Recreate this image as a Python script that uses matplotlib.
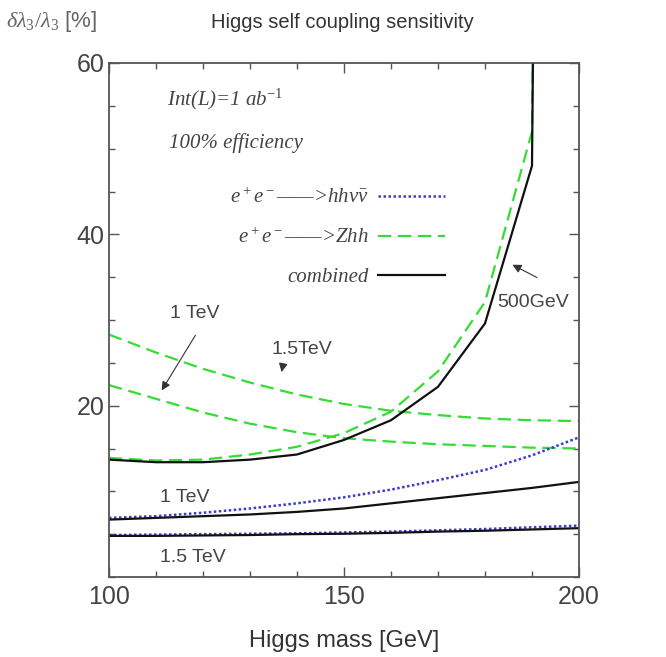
import matplotlib
matplotlib.use("Agg")
import matplotlib.pyplot as plt
from matplotlib.ticker import MultipleLocator

plt.rcParams['font.family'] = ['Liberation Sans', 'DejaVu Sans']
plt.rcParams['mathtext.fontset'] = 'custom'
plt.rcParams['mathtext.rm'] = 'Liberation Serif'
plt.rcParams['mathtext.it'] = 'Liberation Serif:italic'
plt.rcParams['mathtext.bf'] = 'Liberation Serif:bold'

# Higgs mass [GeV]
mass = [100, 110, 120, 130, 140, 150, 160, 170, 180, 190, 200]

# 500 GeV
zhh_500 = [13.9, 13.6, 13.7, 14.3, 15.2, 16.8, 19.3, 24.0, 32.1, 52.0, 700.0]
comb_500 = [13.7, 13.4, 13.4, 13.7, 14.3, 16.0, 18.3, 22.2, 29.6, 48.0, 650.0]

# 1 TeV
zhh_1000 = [22.4, 20.8, 19.2, 17.9, 16.9, 16.2, 15.8, 15.5, 15.3, 15.1, 15.0]
hhvv_1000 = [6.9, 7.1, 7.5, 8.0, 8.6, 9.3, 10.2, 11.3, 12.5, 14.2, 16.3]
comb_1000 = [6.7, 6.9, 7.1, 7.3, 7.6, 8.0, 8.6, 9.2, 9.8, 10.4, 11.1]

# 1.5 TeV
zhh_1500 = [28.3, 26.2, 24.3, 22.7, 21.3, 20.2, 19.4, 18.9, 18.5, 18.3, 18.2]
hhvv_1500 = [4.9, 4.95, 5.0, 5.05, 5.1, 5.2, 5.3, 5.45, 5.6, 5.8, 6.0]
comb_1500 = [4.8, 4.8, 4.85, 4.9, 5.0, 5.05, 5.15, 5.3, 5.4, 5.55, 5.7]

blue = '#3b3bd0'
green = '#33dd33'
grey = '#444444'

fig = plt.figure(figsize=(6.66, 6.57), dpi=100)
# axes box: x 109..579 px, y 63..577 px
ax = fig.add_axes([109 / 666, 1 - 577 / 657, 470 / 666, 514 / 657])

dash = (0, (6, 3))
dots = (0, (1, 1))

# green Zhh curves
ax.plot(mass, zhh_500, color=green, lw=1.6, ls=dash)
ax.plot(mass, zhh_1000, color=green, lw=1.6, ls=dash)
ax.plot(mass, zhh_1500, color=green, lw=1.6, ls=dash, label=r'$e^+e^-$——>$Zhh$')
# blue hhvv curves
ax.plot(mass, hhvv_1000, color=blue, lw=1.8, ls=dots, label=r'$e^+e^-$——>$hh\nu\bar{\nu}$')
ax.plot(mass, hhvv_1500, color=blue, lw=1.8, ls=dots)
# combined
ax.plot(mass, comb_500, color='#111111', lw=1.6)
ax.plot(mass, comb_1000, color='#111111', lw=1.6, label='combined')
ax.plot(mass, comb_1500, color='#111111', lw=1.6)

ax.set_xlim(100, 200)
ax.set_ylim(0, 60)
ax.xaxis.set_major_locator(MultipleLocator(50))
ax.xaxis.set_minor_locator(MultipleLocator(10))
ax.yaxis.set_minor_locator(MultipleLocator(5))
ax.set_yticks([20, 40, 60])
ax.tick_params(which='both', direction='in', top=True, right=True,
               colors='#555555', labelcolor=grey, labelsize=18)
ax.tick_params(which='major', length=7, width=1.0, pad=6)
ax.tick_params(which='minor', length=4, width=1.0)
ax.tick_params(axis='y', pad=3)
for s in ax.spines.values():
    s.set_color('#555555')
    s.set_linewidth(1.3)

# legend (labels left of the line samples)
h, l = ax.get_legend_handles_labels()
order = [1, 0, 2]
ax.legend([h[i] for i in order], [l[i] for i in order], markerfirst=False,
          frameon=False, loc='upper right', bbox_to_anchor=(0.715, 0.757),
          borderpad=0, borderaxespad=0, handlelength=3.2, handletextpad=0.45,
          labelspacing=0.95, labelcolor=grey,
          prop=dict(family='Liberation Serif', style='italic', size=15))

serif_it = dict(family='Liberation Serif', style='italic', color=grey, fontsize=15)
ax.text(112.3, 55.8, r'Int(L)=1 ab$^{-1}$', va='center', ha='left', **serif_it)
ax.text(112.8, 50.6, '100% efficiency', va='center', ha='left', **serif_it)

ann = dict(color=grey, fontsize=14)
arrow = dict(arrowstyle='-|>', color='#333333', lw=0.8, mutation_scale=13)
ax.text(118.3, 30.8, '1 TeV', ha='center', va='center', **ann)
ax.annotate('', xy=(110.9, 21.5), xytext=(118.7, 28.5), arrowprops=arrow)
ax.text(141.1, 26.5, '1.5TeV', ha='center', va='center', **ann)
ax.annotate('', xy=(136.6, 23.6), xytext=(137.1, 25.0), arrowprops=arrow)
ax.text(190.2, 32.0, '500GeV', ha='center', va='center', **ann)
ax.annotate('', xy=(185.3, 36.6), xytext=(191.6, 34.8), arrowprops=arrow)
ax.text(110.9, 9.3, '1 TeV', ha='left', va='center', **ann)
ax.text(110.9, 2.3, '1.5 TeV', ha='left', va='center', **ann)

fig.text(6 / 666, 1 - 22 / 657, r'$\delta\lambda_3/\lambda_3$ [%]', ha='left', va='center',
         color='#666666', fontsize=16)
fig.text(342 / 666, 1 - 22 / 657, 'Higgs self coupling sensitivity', ha='center', va='center',
         color='#333333', fontsize=14.5)
fig.text(344 / 666, 1 - 641 / 657, 'Higgs mass [GeV]', ha='center', va='center',
         color='#333333', fontsize=17)

fig.savefig('out.png', dpi=100, facecolor='white')
